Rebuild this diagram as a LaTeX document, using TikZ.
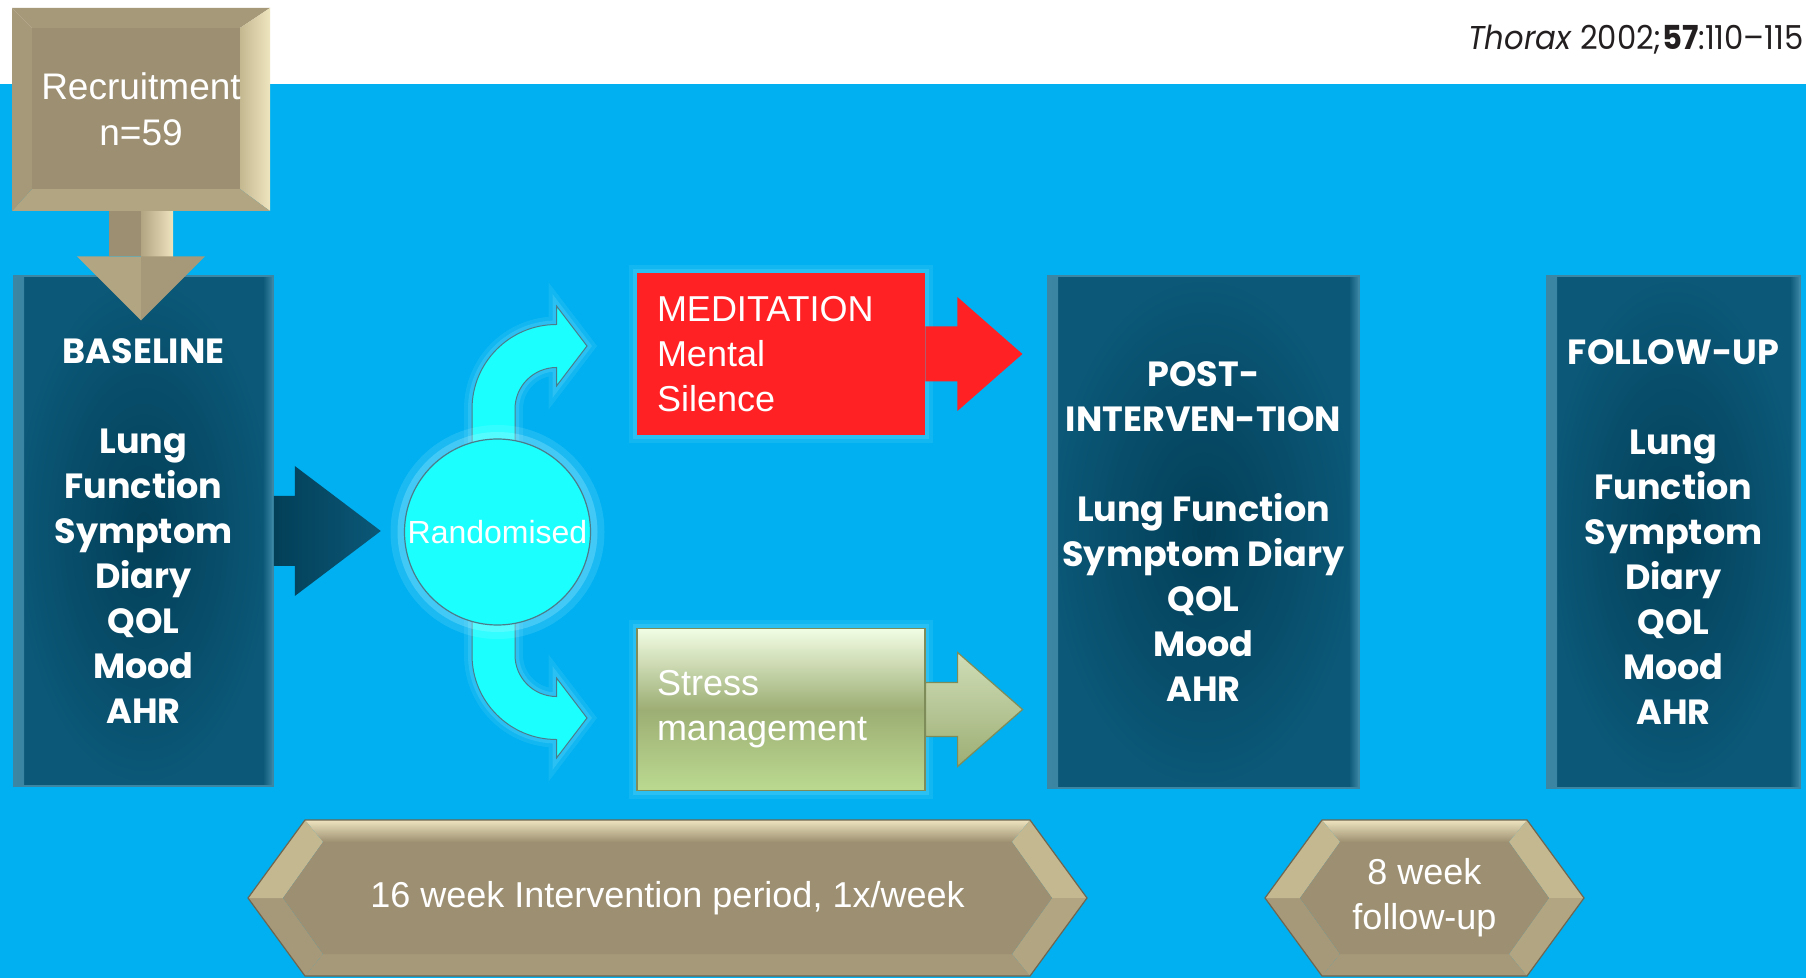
\documentclass[tikz,border=0pt]{standalone}
\usepackage{fontspec}
\setmainfont{Liberation Sans}
\newfontfamily\gothicfont{Poppins}
\newfontfamily\citefont{Poppins}[FakeStretch=0.93]
\usetikzlibrary{positioning,calc}

\definecolor{slideblue}{HTML}{00B0F0}
\definecolor{citegray}{HTML}{231F20}
\definecolor{boxteal}{HTML}{0B5878}
\definecolor{boxtealdark}{HTML}{033F57}
\definecolor{boxtealedge}{HTML}{3C86A4}
\definecolor{tanmain}{HTML}{9D9072}
\definecolor{tanlight}{HTML}{C4B891}
\definecolor{tanmid}{HTML}{B2A582}
\definecolor{tanside}{HTML}{A69979}
\definecolor{tancream}{HTML}{EEE4BE}
\definecolor{tanedge}{HTML}{6E6650}
\definecolor{medred}{HTML}{FF2124}
\definecolor{randcyan}{HTML}{1CFFFF}
\definecolor{randedge}{HTML}{4C7C8A}
\definecolor{glowcyan}{HTML}{B8F6FF}
\definecolor{stresstop}{HTML}{F2FDE4}
\definecolor{stressmid}{HTML}{9DAE74}
\definecolor{stressbot}{HTML}{BBDA90}
\definecolor{stressedge}{HTML}{7E8C5A}

\tikzset{
  measures/.style={rectangle, shade, inner color=boxtealdark, outer color=boxteal,
    draw=boxtealedge, line width=0.8pt, text=white, align=center,
    font=\gothicfont\bfseries\fontsize{17.5}{22.5}\selectfont,
    path picture={
      \shade[left color=boxtealedge, right color=boxteal]
        (path picture bounding box.north west) rectangle ([xshift=5pt]path picture bounding box.south west);
      \shade[left color=boxteal, right color=boxtealedge]
        ([xshift=-5pt]path picture bounding box.north east) rectangle (path picture bounding box.south east);
    }},
  armbox/.style={rectangle, minimum width=144pt, minimum height=81pt, text width=124pt,
    inner xsep=10pt, align=left, text=white, font=\fontsize{18}{22.5}\selectfont},
  glow/.style={preaction={draw=glowcyan, line width=14pt, opacity=.15},
    preaction={draw=glowcyan, line width=7pt, opacity=.25}},
  softglow/.style={preaction={draw=glowcyan, line width=8pt, opacity=.1},
    preaction={draw=glowcyan, line width=4pt, opacity=.15}},
  cyanarrow/.style={fill=randcyan, draw=randedge, line width=0.5pt, softglow},
  slidetext/.style={text=white, align=center, font=\fontsize{18}{22.5}\selectfont}
}

\newcommand{\bevelhex}[4]{%
  \coordinate (HL) at (#1,#3);
  \coordinate (HTL) at ({#1+#4},{#3-78});
  \coordinate (HTR) at ({#2-#4},{#3-78});
  \coordinate (HR) at (#2,#3);
  \coordinate (HBR) at ({#2-#4},{#3+78});
  \coordinate (HBL) at ({#1+#4},{#3+78});
  \coordinate (Hl) at ({#1+35},#3);
  \coordinate (Htl) at ({#1+#4+18},{#3-56});
  \coordinate (Htr) at ({#2-#4-18},{#3-56});
  \coordinate (Hr) at ({#2-35},#3);
  \coordinate (Hbr) at ({#2-#4-18},{#3+56});
  \coordinate (Hbl) at ({#1+#4+18},{#3+56});
  \shade[top color=tancream, bottom color=tanmain] (HTL) -- (HTR) -- (Htr) -- (Htl) -- cycle;
  \fill[tanlight] (HTR) -- (HR) -- (Hr) -- (Htr) -- cycle;
  \fill[tanmid] (HR) -- (HBR) -- (Hbr) -- (Hr) -- cycle;
  \fill[tanside] (HBL) -- (HBR) -- (Hbr) -- (Hbl) -- cycle;
  \fill[tanside] (HL) -- (HBL) -- (Hbl) -- (Hl) -- cycle;
  \fill[tanlight] (HL) -- (HTL) -- (Htl) -- (Hl) -- cycle;
  \fill[tanmain] (Hl) -- (Htl) -- (Htr) -- (Hr) -- (Hbr) -- (Hbl) -- cycle;
  \draw[tanedge, line width=0.6pt] (HL) -- (HTL) -- (HTR) -- (HR) -- (HBR) -- (HBL) -- cycle;
}

\begin{document}
\begin{tikzpicture}[x=0.5pt,y=-0.5pt]
\useasboundingbox (0,0) rectangle (1806,978);
\fill[white] (0,0) rectangle (1806,84);
\fill[slideblue] (0,84) rectangle (1806,978);

\node[anchor=base east, inner sep=0pt, text=citegray, font=\citefont\fontsize{16.5}{19}\selectfont] (cite) at (1804,50) {\textit{Thorax} 2002;\textbf{57}:110–115};

\coordinate (R1) at (12,8);
\coordinate (R2) at (270,8);
\coordinate (R3) at (270,211);
\coordinate (R4) at (12,211);
\coordinate (r1) at (32,28);
\coordinate (r2) at (240,28);
\coordinate (r3) at (240,189);
\coordinate (r4) at (32,189);
\fill[tanside] (R1) -- (R2) -- (r2) -- (r1) -- cycle;
\shade[left color=tanlight, right color=tancream] (R2) -- (R3) -- (r3) -- (r2) -- cycle;
\fill[tanmid] (R4) -- (R3) -- (r3) -- (r4) -- cycle;
\fill[tanside] (R1) -- (R4) -- (r4) -- (r1) -- cycle;
\fill[tanmain] (r1) rectangle (r3);
\node[slidetext, font=\fontsize{18.5}{23}\selectfont, minimum width=129pt, minimum height=101.5pt] (recruit) at (141,109.5) {Recruitment\\n=59};

\node[measures, minimum width=129.5pt, minimum height=255pt] (baseline) at (143.5,531) {BASELINE\\[22.5pt]Lung\\Function\\Symptom\\Diary\\QOL\\Mood\\AHR};
\node[measures, minimum width=155.5pt, minimum height=256pt] (post) at (1203.5,532) {POST-\\INTERVEN-TION\\[22.5pt]Lung Function\\Symptom Diary\\QOL\\Mood\\AHR};
\node[measures, minimum width=126.5pt, minimum height=256pt] (follow) at (1673.5,532) {FOLLOW-UP\\[22.5pt]Lung\\Function\\Symptom\\Diary\\QOL\\Mood\\AHR};

\fill[tanmain] (recruit.south) ++(-32,0) rectangle ++(32,45);
\shade[left color=tanmid, right color=tancream] (recruit.south) rectangle ++(32,45);
\fill[tanmid] (recruit.south) ++(-64,45) -- ++(64,0) -- ++(0,64) -- cycle;
\fill[tanside] (recruit.south) ++(0,45) -- ++(64,0) -- ++(-64,64) -- cycle;

\shade[left color=boxtealdark, right color=boxteal] (baseline.east) ++(0,-35) -- ++(21,0) -- ++(0,-30) -- ++(86,65) -- ++(-86,65) -- ++(0,-30) -- ++(-21,0) -- cycle;

\coordinate (randc) at (497.5,532);
\begin{scope}[shift={($(randc)+(0,-93)$)}]
\draw[cyanarrow] (17.5,11) -- (17.5,-30) arc[start angle=180,end angle=270,radius=41.5] -- (59,-53) -- (89.5,-93) -- (59,-133) -- (59,-114.5) arc[start angle=270,end angle=180,radius=84.5] -- (-25.5,11) -- cycle;
\end{scope}
\begin{scope}[shift={($(randc)+(0,93)$)}, yscale=-1]
\draw[cyanarrow] (17.5,11) -- (17.5,-30) arc[start angle=180,end angle=270,radius=41.5] -- (59,-53) -- (89.5,-93) -- (59,-133) -- (59,-114.5) arc[start angle=270,end angle=180,radius=84.5] -- (-25.5,11) -- cycle;
\end{scope}
\node[circle, minimum size=93pt, inner sep=0pt, fill=randcyan, draw=randedge, line width=0.6pt, glow, text=white, font=\fontsize{16}{19}\selectfont] (rand) at (randc) {Randomised};

\node[armbox, fill=medred, softglow] (med) at (781,354) {MEDITATION\\Mental\\Silence};
\node[armbox, top color=stresstop, bottom color=stressbot, middle color=stressmid, draw=stressedge, line width=0.6pt, softglow] (stress) at (781,709.5) {Stress\\management};

\fill[medred] (med.east) ++(0,-27.5) -- ++(32,0) -- ++(0,-29.5) -- ++(65,57) -- ++(-65,57) -- ++(0,-29.5) -- ++(-32,0) -- cycle;
\shade[top color=stresstop!60!stressmid, bottom color=stressmid, draw=stressedge, line width=0.6pt] (stress.east) ++(0,-27) -- ++(32,0) -- ++(0,-30) -- ++(65,57) -- ++(-65,57) -- ++(0,-30) -- ++(-32,0) -- cycle;

\bevelhex{248}{1087}{898}{57}
\node[slidetext] (interv) at (667.5,898) {16 week Intervention period, 1x/week};
\bevelhex{1265}{1584}{898}{57}
\node[slidetext] (fup) at (1424.5,898) {8 week\\follow-up};
\end{tikzpicture}
\end{document}
